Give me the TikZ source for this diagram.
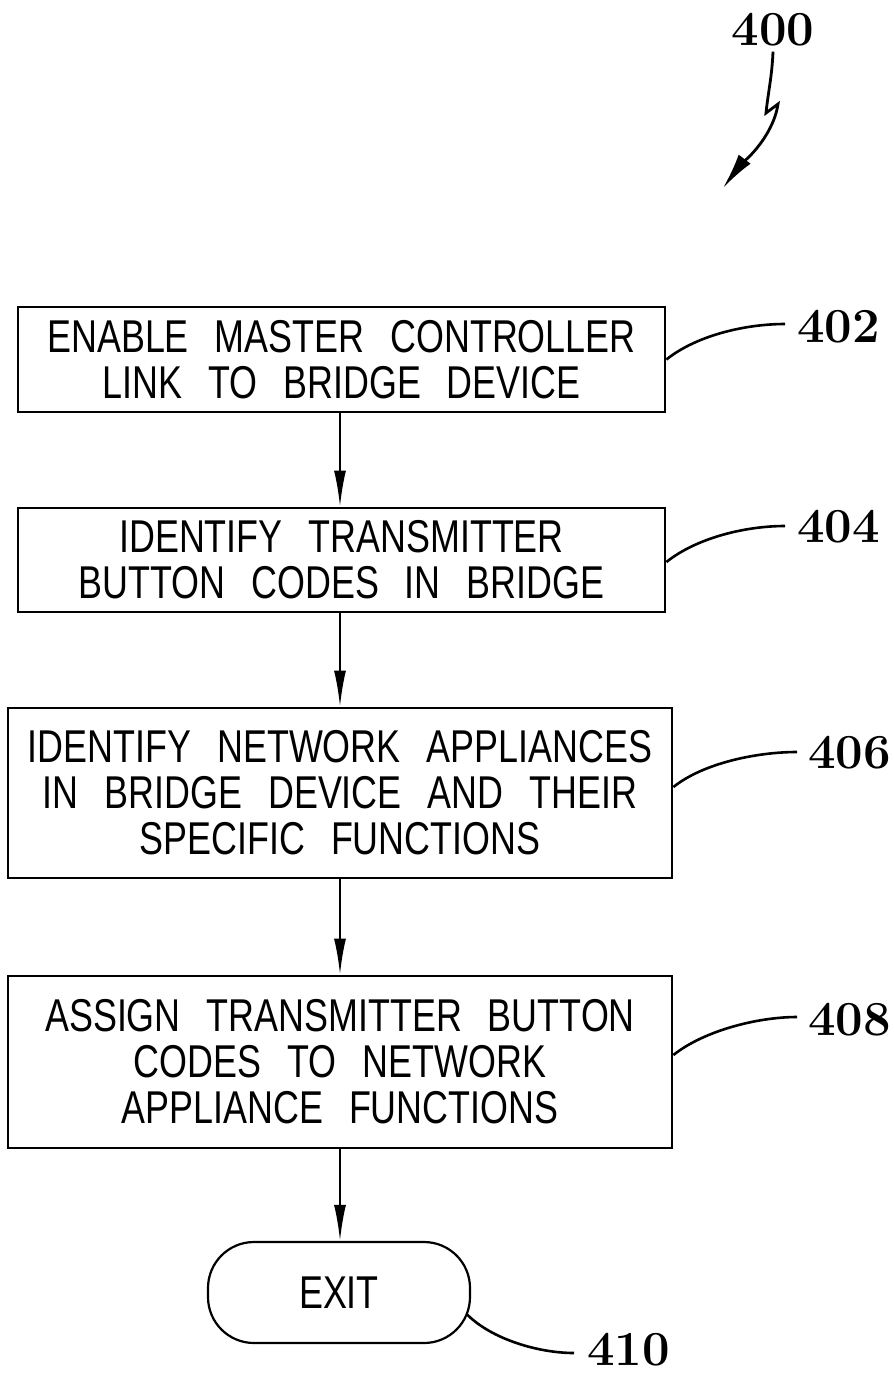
\documentclass[tikz,border=0pt]{standalone}
\usepackage{fontspec}
\setsansfont{Liberation Sans}[FakeStretch=0.78]
\usetikzlibrary{arrows.meta}
\newcommand\wgap{\hspace{26pt}}
\tikzset{
  stepbox/.style={draw, line width=2.8pt, inner sep=0pt, align=center,
    font=\sffamily\fontsize{46}{46}\selectfont},
  exitbox/.style={draw, line width=2.2pt, rounded corners=46pt, inner sep=0pt,
    minimum width=262pt, minimum height=101pt,
    font=\sffamily\fontsize{46}{46}\selectfont},
  flow/.style={line width=2.2pt, -{Latex[length=36pt,width=12pt]}},
  reflabel/.style={font=\rmfamily\bfseries\fontsize{49}{54}\selectfont, inner sep=0pt},
  leader/.style={line width=2.6pt},
}
\begin{document}
\begin{tikzpicture}[x=1pt,y=-1pt]
\useasboundingbox (0,0) rectangle (894,1374);
\node[stepbox, minimum width=647pt, minimum height=105pt] (b402) at (341.5,359.5)
  {ENABLE\wgap MASTER\wgap CONTROLLER\\LINK\wgap TO\wgap BRIDGE\wgap DEVICE};
\node[stepbox, minimum width=647pt, minimum height=104pt] (b404) at (341.5,560)
  {IDENTIFY\wgap TRANSMITTER\\BUTTON\wgap CODES\wgap IN\wgap BRIDGE};
\node[stepbox, minimum width=664pt, minimum height=170pt] (b406) at (340,793)
  {IDENTIFY\wgap NETWORK\wgap APPLIANCES\\IN\wgap BRIDGE\wgap DEVICE\wgap AND\wgap THEIR\\SPECIFIC\wgap FUNCTIONS};
\node[stepbox, minimum width=664pt, minimum height=172pt] (b408) at (340,1062)
  {ASSIGN\wgap TRANSMITTER\wgap BUTTON\\CODES\wgap TO\wgap NETWORK\\APPLIANCE\wgap FUNCTIONS};
\node[exitbox] (exit) at (339,1292.5) {EXIT};

\draw[flow] (b402.south -| 340,0) -- (b404.north -| 340,0);
\draw[flow] (b404.south -| 340,0) -- (b406.north -| 340,0);
\draw[flow] (b406.south -| 340,0) -- (b408.north -| 340,0);
\draw[flow] (b408.south -| 340,0) -- (exit.north -| 340,0);

\node[reflabel] (l400) at (773,30) {400};
\node[reflabel, anchor=west] (l402) at (797,327) {402};
\node[reflabel, anchor=west] (l404) at (797,527) {404};
\node[reflabel, anchor=west] (l406) at (808,753) {406};
\node[reflabel, anchor=west] (l408) at (808,1020) {408};
\node[reflabel, anchor=west] (l410) at (587,1350) {410};

\draw[leader] (b402.east) .. controls +(30,-24) and +(-40,0) .. ([xshift=-12pt,yshift=3pt]l402.west);
\draw[leader] ([yshift=-2pt]b404.east) .. controls +(30,-24) and +(-40,0) .. ([xshift=-12pt,yshift=1pt]l404.west);
\draw[leader] ([yshift=6pt]b406.east) .. controls +(30,-24) and +(-40,0) .. ([xshift=-11pt,yshift=1pt]l406.west);
\draw[leader] ([yshift=7pt]b408.east) .. controls +(30,-24) and +(-40,0) .. ([xshift=-11pt,yshift=3pt]l408.west);
\draw[leader] ([xshift=-4pt,yshift=-22pt]exit.east) .. controls +(25,25) and +(-35,0) .. ([xshift=-13pt,yshift=-3pt]l410.west);

\coordinate (z1) at (766,113);
\coordinate (z2) at (778,104);
\coordinate (ztip) at (723,188);
\draw[line width=2.8pt, line join=miter, -{Latex[length=36pt,width=15pt]}]
  ([yshift=-5pt]l400.south) .. controls +(-1,25) and +(2,-20) .. (z1) -- (z2)
  .. controls +(-5,35) and +(15,-20) .. (ztip);
\end{tikzpicture}
\end{document}
